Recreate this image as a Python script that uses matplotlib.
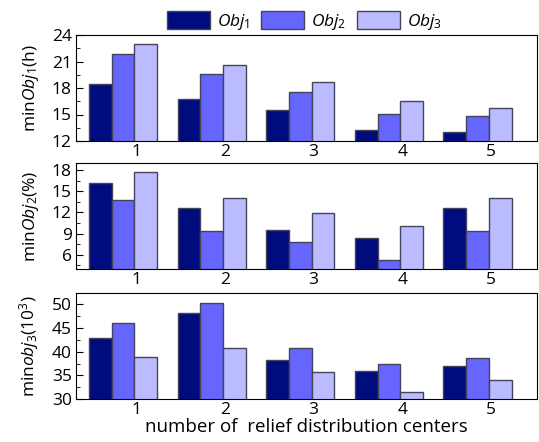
import numpy as np
import matplotlib.pyplot as plt
from matplotlib.ticker import MultipleLocator

# number of relief distribution centers
centers = [1, 2, 3, 4, 5]
labels = ['$\\mathit{Obj}_1$', '$\\mathit{Obj}_2$', '$\\mathit{Obj}_3$']
colors = ['#000C7E', '#6666FF', '#BBBBFF']

# min Obj1 (h)
obj1_h = [[18.5, 16.7, 15.5, 13.25, 13.0],
          [21.9, 19.6, 17.5, 15.1, 14.85],
          [22.95, 20.55, 18.7, 16.5, 15.75]]
# min Obj2 (%)
obj2_pct = [[16.2, 12.6, 9.45, 8.4, 12.6],
            [13.8, 9.4, 7.85, 5.3, 9.4],
            [17.75, 14.05, 11.9, 10.15, 14.05]]
# min obj3 (10^3)
obj3_k = [[42.9, 48.2, 38.2, 35.9, 37.0],
          [46.0, 50.3, 40.7, 37.3, 38.75],
          [38.8, 40.7, 35.8, 31.4, 34.0]]

panels = [
    (obj1_h, 'min$\\mathit{Obj}_1$(h)', (12, 24), 3),
    (obj2_pct, 'min$\\mathit{Obj}_2$(%)', (4, 19), 3),
    (obj3_k, 'min$\\mathit{obj}_3$($10^3$)', (30, 52.4), 5),
]

plt.rcParams['font.family'] = 'Open Sans'
plt.rcParams['mathtext.fontset'] = 'custom'
plt.rcParams['mathtext.rm'] = 'Open Sans'
plt.rcParams['mathtext.it'] = 'Open Sans:italic'
plt.rcParams['mathtext.bf'] = 'Open Sans:bold'

fs = 12.5

fig = plt.figure(figsize=(5.39, 4.42), dpi=100)
W, H = 539, 442
left, right = 76 / W, 537 / W
tops = [35, 163, 293]
ph = 106

x = np.array(centers, dtype=float)
width = 0.256
offsets = [-1.59 * width, -0.59 * width, 0.41 * width]

axes = []
for i, (data, ylabel, ylim, step) in enumerate(panels):
    ax = fig.add_axes([left, 1 - (tops[i] + ph) / H, right - left, ph / H])
    for j in range(3):
        ax.bar(x + offsets[j], data[j], width, color=colors[j],
               edgecolor='#44445a', linewidth=1.0, label=labels[j])
    ax.set_xlim(0.32, 5.52)
    ax.set_ylim(*ylim)
    ax.set_xticks(centers)
    ax.yaxis.set_major_locator(MultipleLocator(step))
    ax.yaxis.set_minor_locator(MultipleLocator(step / 2))
    ax.tick_params(axis='y', which='both', direction='in', right=False, labelsize=fs, pad=3)
    ax.tick_params(axis='y', which='major', length=5)
    ax.tick_params(axis='y', which='minor', length=3)
    ax.tick_params(axis='x', length=0, labelsize=fs, pad=2)
    ax.set_ylabel(ylabel, fontsize=fs, labelpad=8)
    axes.append(ax)

axes[2].set_xlabel('number of  relief distribution centers', fontsize=13.5, labelpad=0)
fig.align_ylabels(axes)

handles, lbls = axes[0].get_legend_handles_labels()
fig.legend(handles, lbls, loc='upper center', bbox_to_anchor=(0.565, 1.0), ncol=3,
           frameon=False, fontsize=fs, handlelength=2.5, handleheight=1.2,
           columnspacing=0.6, handletextpad=0.4, borderaxespad=0.25)

fig.savefig('out.png', dpi=100)
